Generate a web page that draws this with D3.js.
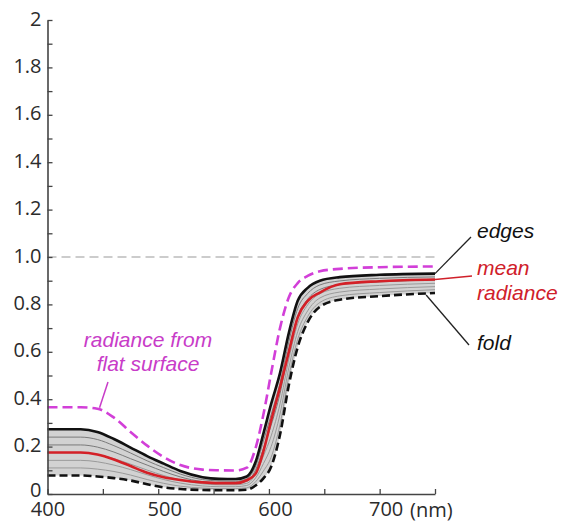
<!DOCTYPE html>
<html>
<head>
<meta charset="utf-8">
<script src="https://cdn.jsdelivr.net/npm/d3@7"></script>
<style>
  html, body { margin: 0; padding: 0; background: #fff; }
  svg { display: block; }
</style>
</head>
<body>
<svg id="chart" width="561" height="523"></svg>
<script>
// ---------- data ----------
const wavelengths = [400, 430, 445, 460, 475, 490, 505, 520, 540, 555, 570, 580, 588, 595, 602, 610, 618, 626, 635, 646, 664, 700, 750];

const flatSurface = [.366, .366, .360, .322, .262, .204, .156, .122, .103, .100, .099, .111, .195, .335, .510, .700, .830, .890, .920, .940, .950, .957, .960];
const edges       = [.273, .273, .262, .232, .196, .160, .128, .097, .071, .064, .063, .074, .136, .255, .380, .510, .680, .815, .870, .900, .915, .925, .930];
const meanRadiance= [.175, .175, .167, .146, .118, .090, .071, .059, .049, .046, .046, .058, .086, .180, .310, .450, .600, .745, .815, .850, .885, .898, .905];
const fold        = [.078, .078, .074, .067, .057, .041, .028, .021, .017, .016, .016, .018, .036, .066, .115, .250, .460, .620, .725, .790, .820, .835, .848];

const grayCurve1 = [.240, .240, .230, .204, .173, .140, .111, .084, .061, .055, .054, .064, .118, .223, .335, .467, .643, .783, .846, .882, .899, .910, .916];
const grayCurve2 = [.207, .207, .198, .177, .149, .122, .095, .072, .052, .047, .046, .054, .102, .192, .290, .423, .607, .750, .822, .863, .883, .895, .903];
const grayCurve3 = [.174, .174, .167, .149, .126, .101, .078, .059, .043, .039, .039, .045, .085, .160, .245, .380, .570, .718, .798, .845, .868, .880, .889];
const grayCurve4 = [.142, .142, .136, .122, .103, .081, .061, .046, .034, .031, .031, .036, .068, .128, .200, .337, .533, .685, .773, .827, .852, .865, .875];
const grayCurve5 = [.110, .110, .105, .095, .080, .061, .045, .033, .025, .023, .023, .026, .052, .097, .155, .293, .497, .653, .749, .808, .836, .850, .862];
const grayCurves = [grayCurve1, grayCurve2, grayCurve3, grayCurve4, grayCurve5];

const xTickValues = [400, 450, 500, 550, 600, 650, 700, 750];
const xTickLabels = {400: "400", 500: "500", 600: "600", 700: "700"};
const yTickValues = [0, .1, .2, .3, .4, .5, .6, .7, .8, .9, 1, 1.1, 1.2, 1.3, 1.4, 1.5, 1.6, 1.7, 1.8, 1.9, 2];
const yTickLabels = {"0": "0", "0.2": "0.2", "0.4": "0.4", "0.6": "0.6", "0.8": "0.8", "1": "1.0",
                     "1.2": "1.2", "1.4": "1.4", "1.6": "1.6", "1.8": "1.8", "2": "2"};
const referenceLevel = 1.0;
const xUnit = "(nm)";

// ---------- scales ----------
const svg = d3.select("#chart");
svg.append("rect").attr("width", 561).attr("height", 523).attr("fill", "#fff");

const x = d3.scaleLinear().domain([400, 750]).range([47.5, 435]);
const y = d3.scaleLinear().domain([0, 2]).range([494, 20]);

const toPts = vals => wavelengths.map((w, i) => [w, vals[i]]);
const line = d3.line().x(d => x(d[0])).y(d => y(d[1])).curve(d3.curveMonotoneX);

// reference line at 1.0
svg.append("line")
  .attr("x1", x(400)).attr("x2", x(750))
  .attr("y1", y(referenceLevel)).attr("y2", y(referenceLevel))
  .attr("stroke", "#9a9a9a").attr("stroke-width", 1.2)
  .attr("stroke-dasharray", "9,5");

// gray band between edges and fold
const band = d3.area()
  .x((d, i) => x(wavelengths[i]))
  .y0((d, i) => y(fold[i]))
  .y1((d, i) => y(edges[i]))
  .curve(d3.curveMonotoneX);
svg.append("path").datum(edges).attr("d", band).attr("fill", "#d2d2d2");

grayCurves.forEach((g, k) => {
  svg.append("path").datum(toPts(g)).attr("d", line)
    .attr("fill", "none").attr("stroke", k < 2 ? "#7a7a7a" : "#9a9a9a").attr("stroke-width", 1);
});

// main curves
svg.append("path").datum(toPts(fold)).attr("d", line)
  .attr("fill", "none").attr("stroke", "#111").attr("stroke-width", 2.6)
  .attr("stroke-dasharray", "8,4");
svg.append("path").datum(toPts(edges)).attr("d", line)
  .attr("fill", "none").attr("stroke", "#111").attr("stroke-width", 2.6);
svg.append("path").datum(toPts(meanRadiance)).attr("d", line)
  .attr("fill", "none").attr("stroke", "#d42027").attr("stroke-width", 2.6);
svg.append("path").datum(toPts(flatSurface)).attr("d", line)
  .attr("fill", "none").attr("stroke", "#d23fd8").attr("stroke-width", 2.6)
  .attr("stroke-dasharray", "10,5");

// ---------- axes ----------
const axisColor = "#444";
const tickFont = "'Open Sans', sans-serif";

const xAxis = d3.axisBottom(x).tickValues(xTickValues).tickSize(-5).tickSizeOuter(0)
  .tickPadding(8).tickFormat(v => xTickLabels[v] || "");
const gx = svg.append("g").attr("transform", `translate(0,${y(0)})`).call(xAxis);
const yAxis = d3.axisLeft(y).tickValues(yTickValues).tickSize(-5).tickSizeOuter(0)
  .tickPadding(6).tickFormat(v => yTickLabels[String(+v.toFixed(1))] || "");
const gy = svg.append("g").attr("transform", `translate(${x(400)},0)`).call(yAxis);

[gx, gy].forEach(g => {
  g.select(".domain").attr("stroke", axisColor).attr("stroke-width", 1.6);
  g.selectAll(".tick line").attr("stroke", axisColor).attr("stroke-width", 1.3);
  g.selectAll(".tick text").attr("fill", "#2b2b2b")
    .style("font-family", tickFont).style("font-size", "20px");
});
gx.selectAll(".tick text").attr("dx", d => d === 400 ? 0 : 6);
gy.selectAll(".tick text").attr("dy", d => d === 0 ? "0.1em" : "0.25em");

svg.append("text").attr("x", 410).attr("y", 517)
  .attr("fill", "#2b2b2b").style("font-family", tickFont).style("font-size", "20px")
  .text(xUnit);

// ---------- annotations ----------
const annFont = "'Liberation Sans', Arial, sans-serif";
const ann = (txt, xx, yy, color, anchor) => svg.append("text")
  .attr("x", xx).attr("y", yy).attr("fill", color).attr("text-anchor", anchor || "start")
  .style("font-family", annFont).style("font-style", "italic").style("font-size", "21px")
  .text(txt);
const leader = (x1, y1, x2, y2, color, w) => svg.append("line")
  .attr("x1", x1).attr("y1", y1).attr("x2", x2).attr("y2", y2)
  .attr("stroke", color).attr("stroke-width", w || 1.3);

const magentaText = "#c83cc8";
ann("radiance from", 148, 347, magentaText, "middle");
ann("flat surface", 148, 371, magentaText, "middle");
leader(108, 382, x(447), y(flatSurface[2]) - 1, magentaText, 1.5);

ann("edges", 477, 238, "#111");
leader(x(750), y(edges[edges.length - 1]), 471, 237, "#222");

ann("mean", 477, 275, "#d0202a");
ann("radiance", 477, 300, "#d0202a");
leader(x(750), y(meanRadiance[meanRadiance.length - 1]), 472, 276, "#d0202a");

ann("fold", 477, 350, "#111");
leader(x(742), y(fold[fold.length - 1]) + 2, 469, 345, "#222");
</script>
</body>
</html>
